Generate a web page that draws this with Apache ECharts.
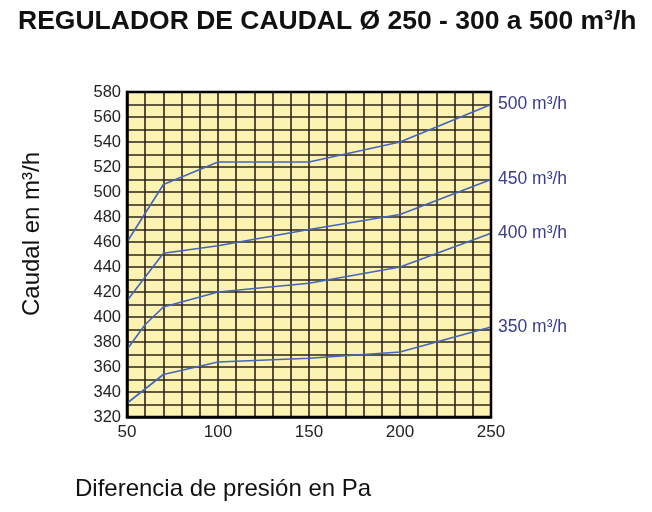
<!DOCTYPE html>
<html><head><meta charset="utf-8">
<script src="https://cdn.jsdelivr.net/npm/echarts@6/dist/echarts.min.js"></script>
<style>html,body{margin:0;padding:0;background:#fff}#c{width:652px;height:512px}</style>
</head><body><div id="c"></div>
<script>
const seriesNames = ['500 m³/h', '450 m³/h', '400 m³/h', '350 m³/h'];
const x500 = [50, 70, 100, 150, 200, 250];
const y500 = [460, 506, 524, 524, 540, 570];
const x450 = [50, 70, 100, 150, 200, 250];
const y450 = [413, 451, 457, 470, 482, 510];
const x400 = [50, 60, 70, 100, 150, 200, 250];
const y400 = [374, 394, 408, 420, 427, 440, 467];
const x350 = [50, 70, 100, 150, 200, 250];
const y350 = [331, 354, 364, 367, 372, 392];
const xs = [x500, x450, x400, x350];
const ys = [y500, y450, y400, y350];

const chart = echarts.init(document.getElementById('c'));
const gridLine = { show: true, lineStyle: { color: '#2b2418', width: 1.6 } };
chart.setOption({
  animation: false,
  backgroundColor: '#fff',
  title: {
    text: 'REGULADOR DE CAUDAL Ø 250 - 300 a 500 m³/h',
    left: 13, top: 3,
    textStyle: { fontFamily: 'Liberation Sans', fontWeight: 'bold', fontSize: 26.5, color: '#111' }
  },
  grid: { left: 127, right: 161, top: 92, bottom: 95, show: true, backgroundColor: '#fcf3b3', borderWidth: 0 },
  xAxis: {
    type: 'value', min: 50, max: 250, interval: 50,
    axisLine: { show: true, onZero: false, lineStyle: { color: '#000', width: 2.5 } },
    axisTick: { show: false },
    axisLabel: { fontFamily: 'Liberation Sans', fontSize: 17, color: '#222', margin: 7 },
    splitLine: gridLine,
    minorTick: { show: false, splitNumber: 5 },
    minorSplitLine: gridLine
  },
  yAxis: {
    type: 'value', min: 320, max: 580, interval: 20,
    axisLine: { show: true, onZero: false, lineStyle: { color: '#000', width: 2.5 } },
    axisTick: { show: false },
    axisLabel: { fontFamily: 'Liberation Sans', fontSize: 16.5, color: '#222', margin: 6 },
    splitLine: gridLine,
    minorTick: { show: false, splitNumber: 2 },
    minorSplitLine: gridLine
  },
  graphic: [
    { type: 'text', left: 75, top: 477, style: { text: 'Diferencia de presión en Pa', font: '24px "Liberation Sans"', fill: '#111' } },
    { type: 'text', x: 32, y: 234, rotation: Math.PI / 2, style: { text: 'Caudal en m³/h', font: '24px "Liberation Sans"', fill: '#111', align: 'center', verticalAlign: 'middle' } },
    { type: 'rect', shape: { x: 127, y: 92, width: 364, height: 325 }, style: { fill: 'none', stroke: '#000', lineWidth: 2.5 }, z: 100 }
  ],
  series: seriesNames.map((n, i) => ({
    name: n, type: 'line', symbol: 'none',
    data: xs[i].map((x, j) => [x, ys[i][j]]),
    lineStyle: { color: '#4465b8', width: 1.6 },
    z: 5,
    endLabel: { show: true, formatter: n, distance: 7, fontFamily: 'Liberation Sans', fontSize: 17.5, color: '#3a3d8c' }
  }))
});
</script></body></html>
